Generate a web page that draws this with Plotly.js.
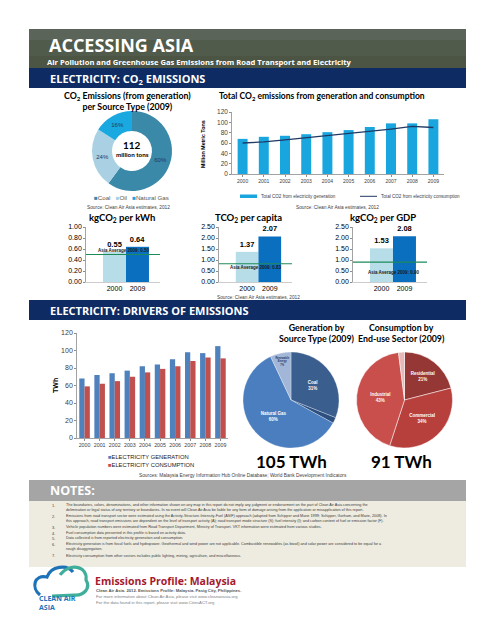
<!DOCTYPE html>
<html><head><meta charset="utf-8">
<script src="https://cdn.plot.ly/plotly-3.0.1.min.js"></script>
<style>html,body{margin:0;padding:0;background:#fff}#chart{width:495px;height:640px}</style>
</head><body><div id="chart"></div>
<script>
// ---------- DATA ----------
const years = ['2000','2001','2002','2003','2004','2005','2006','2007','2008','2009'];
const co2Generation = [68,72,74,77,81,85,91,98,98,106];
const co2Consumption = [60,62,66,70,75,79,83,87,92,90];
const sourceLabels = ['Coal','Oil','Natural Gas'];
const sourceShares = [60,24,16];
const donutTotal = 112;
const compareYears = ['2000','2009'];
const kgPerKwh = [0.55,0.64];
const tPerCapita = [1.37,2.07];
const kgPerGdp = [1.53,2.08];
const asiaAverage2009 = [0.50,0.83,0.90];
const elecGeneration = [68,72,74,77,82,84,90,98,97,105];
const elecConsumption = [59,62,65,70,75,79,82,88,92,91];
const genLabels = ['Coal','Oil','Natural Gas','Renewable Energy'];
const genShares = [31,2,60,7];
const genTotal = 105;
const conLabels = ['Residential','Commercial','Industrial','Others'];
const conShares = [21,34,43,2];
const conTotal = 91;

// ---------- helpers ----------
const W = 495, H = 640;
const px = x => x / W, py = y => 1 - y / H;
const dx = (a,b) => [px(a), px(b)], dy = (top,bot) => [py(bot), py(top)];
const TF = 'Lato, "Liberation Sans", Arial, sans-serif';
const AF = '"Liberation Sans", Arial, sans-serif';
const HF = '"Open Sans", Arial, sans-serif';
function ann(text, x, y, font, o) {
  return Object.assign({text: text, x: px(x), y: py(y), xref:'paper', yref:'paper', showarrow:false,
    xanchor:'center', yanchor:'middle', font: Object.assign({family: AF, size: 8, color:'#000'}, font||{})}, o||{});
}
function rect(x0,y0,x1,y1,color,o){
  return Object.assign({type:'rect', xref:'paper', yref:'paper', x0:px(x0), x1:px(x1), y0:py(y1), y1:py(y0),
    fillcolor:color, line:{width:0}, layer:'below'}, o||{});
}
function pathPx(pts){ return pts.map(s => s.replace(/(-?[\d.]+),(-?[\d.]+)/g, (m,a,b)=> px(+a).toFixed(4)+','+py(+b).toFixed(4))).join(' '); }

const traces = [];
// Total CO2
traces.push({type:'bar', x: years, y: co2Generation, xaxis:'x', yaxis:'y', width:0.47,
  marker:{color:'#19A6DF'}, name:'Total CO2 from electricity generation', hoverinfo:'none'});
traces.push({type:'scatter', mode:'lines', x: years, y: co2Consumption, xaxis:'x', yaxis:'y',
  line:{color:'#1F3864', width:1.3}, name:'Total CO2 from electricity consumption', hoverinfo:'none'});
// small charts
const smallSets = [kgPerKwh, tPerCapita, kgPerGdp];
smallSets.forEach((vals,i) => {
  traces.push({type:'bar', x: compareYears, y: vals, xaxis:'x'+(i+2), yaxis:'y'+(i+2), width:1,
    marker:{color:['#B7DDE9','#0B6FC0']}, text: vals.map(v=>v.toFixed(2)), textposition:'outside',
    textfont:{family:AF, size:7.5, color:'#000', weight:'bold'}, cliponaxis:false, hoverinfo:'none'});
});
// drivers
traces.push({type:'bar', x: years, y: elecGeneration, xaxis:'x5', yaxis:'y5', marker:{color:'#4F81BD'}, name:'ELECTRICITY GENERATION', hoverinfo:'none'});
traces.push({type:'bar', x: years, y: elecConsumption, xaxis:'x5', yaxis:'y5', marker:{color:'#C0504D'}, name:'ELECTRICITY CONSUMPTION', hoverinfo:'none'});
// donut
const donutColors = ['#3A89A8','#A9D1E3','#1AA8E0'];
traces.push({type:'pie', labels: sourceLabels, values: sourceShares, hole:0.5, sort:false, direction:'clockwise', rotation:0,
  domain:{x: dx(92,172), y: dy(111,191)}, marker:{colors: donutColors},
  textinfo:'percent', textposition:'inside', insidetextorientation:'horizontal',
  textfont:{family:AF, size:6, color:'#1F3864'}, hoverinfo:'none'});
// generation pie
const wrap = l => l.length > 12 ? l.replace(/ /g,'<br>') : l;
traces.push({type:'pie', labels: genLabels, values: genShares, sort:false, direction:'clockwise', rotation:0,
  domain:{x: dx(243,339), y: dy(352,448)},
  marker:{colors:['#3A5E8E','#2D4F80','#4A7EBF','#A2B6D8'], line:{color:'#ffffff', width:0.3}},
  text: genLabels.map((l,i)=> genShares[i] < 5 ? ' ' : wrap(l)+'<br>'+genShares[i]+'%'),
  textinfo:'text', textposition:'inside', insidetextorientation:'horizontal',
  textfont:{family:AF, size:4.5, color:['#fff','#fff','#fff','#1F3864'], weight:'bold'}, hoverinfo:'none'});
// consumption pie
traces.push({type:'pie', labels: conLabels, values: conShares, sort:false, direction:'clockwise', rotation:0,
  domain:{x: dx(356,453), y: dy(352,448)},
  marker:{colors:['#953735','#B7403C','#C94F4C','#E6B9B8'], line:{color:'#ffffff', width:0.5}},
  text: conLabels.map((l,i)=> conShares[i] < 5 ? ' ' : l+'<br>'+conShares[i]+'%'),
  textinfo:'text', textposition:'inside', insidetextorientation:'horizontal',
  textfont:{family:AF, size:4.5, color:'#fff', weight:'bold'}, hoverinfo:'none'});

// ---------- layout ----------
const axisBase = {showgrid:false, zeroline:false, showline:true, linecolor:'#8c8c8c', linewidth:0.8, fixedrange:true};
const layout = {
  width: W, height: H, margin:{l:0,r:0,t:0,b:0}, paper_bgcolor:'#fff', plot_bgcolor:'rgba(0,0,0,0)',
  showlegend:false, barmode:'group', bargap:0.3, bargroupgap:0,
  font:{family:AF, color:'#000'},
  xaxis: Object.assign({}, axisBase, {domain: dx(232,444), anchor:'y', type:'category', tickfont:{size:5, color:'#404040'}, ticks:'outside', ticklen:2, tickcolor:'#8c8c8c'}),
  yaxis: Object.assign({}, axisBase, {domain: dy(112,174), anchor:'x', range:[0,120], dtick:20, tickfont:{size:6.5, color:'#404040'}, ticks:'outside', ticklen:2, tickcolor:'#8c8c8c'}),
  xaxis5: Object.assign({}, axisBase, {domain: dx(77,228), anchor:'y5', type:'category', tickfont:{size:5.3, color:'#404040'}, ticks:'outside', ticklen:2, tickcolor:'#8c8c8c'}),
  yaxis5: Object.assign({}, axisBase, {domain: dy(333,438), anchor:'x5', range:[0,120], dtick:20, tickfont:{size:7, color:'#404040'}, ticks:'outside', ticklen:2, tickcolor:'#8c8c8c'}),
  shapes: [], annotations: []
};
const smallDomains = [[86,160],[219,292],[353,427]];
const smallRanges = [[0,1,0.2],[0,2.5,0.5],[0,2.5,0.5]];
smallDomains.forEach((d,i) => {
  const n = i+2;
  layout['xaxis'+n] = Object.assign({}, axisBase, {domain: dx(d[0],d[1]), anchor:'y'+n, type:'category', range:[-1.24,1.98],
    tickfont:{size:7, color:'#000'}, linecolor:'#bfbfbf'});
  layout['yaxis'+n] = Object.assign({}, axisBase, {domain: dy(227,282), anchor:'x'+n, range:[smallRanges[i][0], smallRanges[i][1]],
    dtick: smallRanges[i][2], tickformat:'.2f', tickfont:{size:7, color:'#000'}, ticks:'outside', ticklen:2, tickcolor:'#8c8c8c'});
  layout.shapes.push({type:'line', xref:'x'+n+' domain', yref:'y'+n, x0:0, x1:1, y0: asiaAverage2009[i], y1: asiaAverage2009[i],
    line:{color:'#1E8A5A', width:1.2}});
});

const S = layout.shapes, A = layout.annotations;
// banner
S.push(rect(29,29,466,68,'#515B4B'));
S.push(rect(29,29,466,40,'#5B6458'));
S.push(rect(29,56,466,68,'#4C5443'));
S.push(rect(29,68,466,88,'#0E2B64'));
S.push(rect(29,300,466,320,'#0E2B64'));
S.push(rect(29,480,466,501,'#A5A5A5'));
S.push(rect(29,501,466,567,'#EEECE1'));
A.push(ann('ACCESSING ASIA', 47, 45, {family:HF, size:18, color:'#fff', weight:'bold'}, {xanchor:'left'}));
A.push(ann('Air Pollution and Greenhouse Gas Emissions from Road Transport and Electricity', 45, 62, {family:HF, size:7.6, color:'#fff', weight:'bold'}, {xanchor:'left'}));
A.push(ann('ELECTRICITY: CO<sub>2</sub> EMISSIONS', 48, 78.5, {family:HF, size:11, color:'#fff', weight:'bold'}, {xanchor:'left'}));
A.push(ann('ELECTRICITY: DRIVERS OF EMISSIONS', 48, 310, {family:HF, size:11, color:'#fff', weight:'bold'}, {xanchor:'left'}));
A.push(ann('NOTES:', 48, 490.5, {family:HF, size:12.5, color:'#fff', weight:'bold'}, {xanchor:'left'}));

// donut block
A.push(ann('CO<sub>2</sub> Emissions (from generation)<br>per Source Type (' + years[9] + ')', 127, 101, {family:TF, size:8.8, weight:'bold'}));
A.push(ann(String(donutTotal), 132, 145, {family:TF, size:10, weight:'bold'}));
A.push(ann('million tons', 132, 154, {family:TF, size:6.3, weight:'bold'}));
A.push(ann(sourceLabels.map((l,i)=>'<span style="color:'+donutColors[i]+'">■</span>'+l).join('   '), 131, 197, {size:6.2, color:'#595959'}));
A.push(ann('Source: Clean Air Asia estimates, 2012', 128, 208, {size:4.8, color:'#404040'}));

// total CO2 block
A.push(ann('Total CO<sub>2</sub> emissions from generation and consumption', 322, 96.5, {family:TF, size:8.5, weight:'bold'}));
A.push(ann('Million Metric Tons', 203, 144, {size:5.3, weight:'bold'}, {textangle:-90}));
S.push(rect(240,194.5,257,198,'#19A6DF',{layer:'above'}));
S.push({type:'line', xref:'paper', yref:'paper', x0:px(360), x1:px(377), y0:py(196.3), y1:py(196.3), line:{color:'#1F3864', width:1}});
A.push(ann('Total CO2 from electricity generation', 259, 196.3, {size:4.6, color:'#404040'}, {xanchor:'left'}));
A.push(ann('Total CO2 from electricity consumption', 379, 196.3, {size:4.6, color:'#404040'}, {xanchor:'left'}));
A.push(ann('Source: Clean Air Asia estimates, 2012', 337, 207, {size:4.8, color:'#404040'}));

// small charts titles + asia labels
const smallTitles = ['kgCO<sub>2</sub> per kWh','TCO<sub>2</sub> per capita','kgCO<sub>2</sub> per GDP'];
const smallTitleX = [122, 248, 383];
const asiaLabelPos = [[123,250.5],[255,267.5],[393,272]];
smallTitles.forEach((t,i)=>{
  A.push(ann(t, smallTitleX[i], 218, {family:TF, size:9.5, weight:'bold'}));
  A.push(ann('Asia Average 2009: ' + asiaAverage2009[i].toFixed(2), asiaLabelPos[i][0], asiaLabelPos[i][1], {size:4.5, weight:'bold', color:'#1a1a1a'}));
});
A.push(ann('Source: Clean Air Asia estimates, 2012', 258, 297, {size:4.8, color:'#404040'}));

// drivers block
A.push(ann('TWh', 55, 386, {size:7, weight:'bold'}, {textangle:-90}));
A.push(ann('<span style="color:#4F81BD">■</span>ELECTRICITY GENERATION<br><span style="color:#C0504D">■</span>ELECTRICITY CONSUMPTION', 106, 461, {size:5.8, color:'#1a1a1a'}, {xanchor:'left', align:'left'}));
A.push(ann('Sources: Malaysia Energy Information Hub Online Database; World Bank Development Indicators', 243, 475.5, {size:4.8, color:'#404040'}));
A.push(ann('Generation by<br>Source Type (' + years[9] + ')', 317, 333, {family:TF, size:8.8, weight:'bold'}));
A.push(ann('Consumption by<br>End-use Sector (' + years[9] + ')', 401, 333, {family:TF, size:8.8, weight:'bold'}));
A.push(ann(genTotal + ' TWh', 291, 461, {family:TF, size:17, weight:'bold'}));
A.push(ann(conTotal + ' TWh', 401, 461, {family:TF, size:17, weight:'bold'}));

// notes
const notes = [
 ['1.','The boundaries, colors, denominations, and other information shown on any map in this report do not imply any judgment or endorsement on the part of Clean Air Asia concerning the'],
 ['','delimination or legal status of any territory or boundaries. In no event will Clean Air Asia be liable for any form of damage arising from the application or misapplication of this report.'],
 ['2.','Emissions from road transport sector were estimated using the Activity-Structure-Intensity-Fuel (ASIF) approach (adapted from Schipper and Marie 1999; Schipper, Gorham, and Marie, 2008). In'],
 ['','this approach, road transport emissions are dependent on the level of transport activity (A); road transport mode structure (S); fuel intensity (I); and carbon content of fuel or emission factor (F).'],
 ['3.','Vehicle population numbers were estimated from Road Transport Department, Ministry of Transport. VKT information were estimated from various studies.'],
 ['4.','Fuel consumption data presented in this profile is based on activity data.'],
 ['5.','Data collected is from reported electricity generation and consumption.'],
 ['6.','Electricity generation is from fossil fuels and hydropower. Geothermal and wind power are not applicable. Combustible renewables (as biooil) and solar power are considered to be equal for a'],
 ['','rough disaggregation.'],
 ['7.','Electricity consumption from other sectors includes public lighting, mining, agriculture, and miscellaneous.']
];
const noteY = [505,510,516,521,527,533,538,544,549,555.5];
notes.forEach((n,i)=>{
  if (n[0]) A.push(ann(n[0], 50, noteY[i], {size:3.9, color:'#3a3a3a'}, {xanchor:'left'}));
  A.push(ann(n[1], 63.5, noteY[i], {size:3.75, color:'#3a3a3a'}, {xanchor:'left'}));
});

// footer logo + text
S.push({type:'path', xref:'paper', yref:'paper', line:{color:'#1E73B8', width:3.2},
  path: pathPx(['M 40,595','C 31,588 34,574 47,577','C 51,566 67,564 73,572'])});
S.push({type:'path', xref:'paper', yref:'paper', line:{color:'#3FAE9A', width:3.2},
  path: pathPx(['M 60,575','C 68,563 88,565 86,580','C 91,588 84,596 74,595','L 52,596'])});
A.push(ann('CLEAN AIR<br>ASIA', 37, 603, {family:HF, size:7, color:'#1E73B8', weight:'bold'}, {xanchor:'left', align:'left'}));
A.push(ann('Emissions Profile: Malaysia', 93, 580.5, {family:HF, size:10.5, color:'#A6192E', weight:'bold'}, {xanchor:'left'}));
A.push(ann('Clean Air Asia. 2012. Emissions Profile: Malaysia. Pasig City, Philippines.', 94, 590, {size:4.2, color:'#555', weight:'bold'}, {xanchor:'left'}));
A.push(ann('For more information about Clean Air Asia, please visit www.cleanairasia.org', 94, 596, {size:4.2, color:'#808080'}, {xanchor:'left'}));
A.push(ann('For the data found in this report, please visit www.CitiesACT.org', 94, 602, {size:4.2, color:'#808080'}, {xanchor:'left'}));

Plotly.newPlot('chart', traces, layout, {displayModeBar:false, staticPlot:true});
</script></body></html>
